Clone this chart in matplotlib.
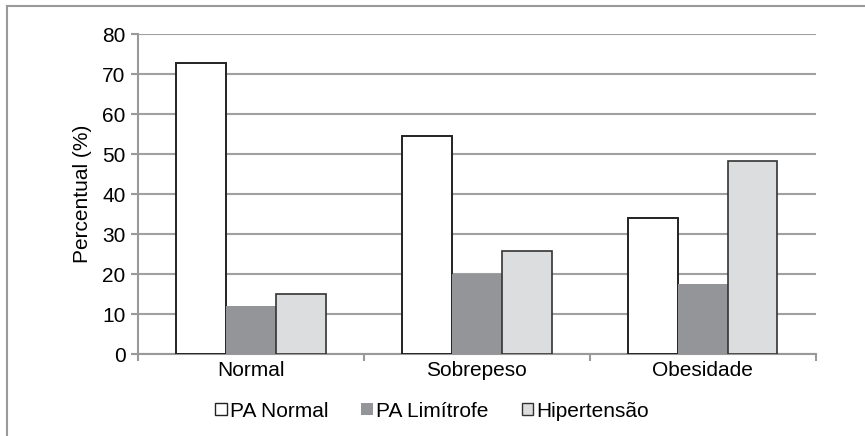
import matplotlib
matplotlib.use('Agg')
import matplotlib.pyplot as plt
from matplotlib.lines import Line2D
from matplotlib.patches import Patch
import numpy as np

categories = ['Normal', 'Sobrepeso', 'Obesidade']
series = ['PA Normal', 'PA Limítrofe', 'Hipertensão']
pa_normal = [72.7, 54.5, 34.0]
pa_limitrofe = [12.1, 20.0, 17.6]
hipertensao = [15.0, 25.7, 48.3]
yticks = [0, 10, 20, 30, 40, 50, 60, 70, 80]

plt.rcParams.update({
    "font.family": ["Liberation Sans", "DejaVu Sans"],
    "font.size": 15,
})

fig = plt.figure(figsize=(8.65, 4.36), dpi=100)
ax = fig.add_axes([138 / 865, 82 / 436, 677.5 / 865, 320 / 436])

# frame lines of the surrounding box
fig.add_artist(Line2D([7 / 865, 1], [1 - 6.5 / 436, 1 - 6.5 / 436], color='#999999', lw=1.5))
fig.add_artist(Line2D([7.5 / 865, 7.5 / 865], [0, 1 - 6.5 / 436], color='#999999', lw=1.5))

x = np.arange(len(categories)) + 0.5
w = 0.221
ax.bar(x - w, pa_normal, w, color='white', edgecolor='#222222', linewidth=1.4, zorder=3)
ax.bar(x, pa_limitrofe, w, color='#949598', edgecolor='none', zorder=3)
ax.bar(x + w, hipertensao, w, color='#dcdddf', edgecolor='#333333', linewidth=1.2, zorder=3)

ax.set_xlim(0, 3)
ax.set_ylim(0, 80)
ax.set_yticks(yticks)
ax.set_xticks([0, 1, 2, 3])
ax.set_xticklabels([])
ax.set_xticks(x, minor=True)
ax.set_xticklabels(categories, minor=True)
ax.tick_params(axis='x', which='minor', length=0, pad=5, labelsize=15)
ax.tick_params(axis='x', which='major', length=5, width=1.5, color='#999999', direction='out')
ax.tick_params(axis='y', length=5, width=1.5, color='#999999', labelsize=15, pad=4)

ax.grid(axis='y', color='#a0a0a0', linewidth=1.5, zorder=0)
ax.set_axisbelow(True)
for s in ['top', 'right']:
    ax.spines[s].set_visible(False)
for s in ['left', 'bottom']:
    ax.spines[s].set_color('#999999')
    ax.spines[s].set_linewidth(1.5)

ax.set_ylabel('Percentual (%)', fontsize=15, labelpad=7)

handles = [
    Patch(facecolor='white', edgecolor='#222222', linewidth=1.0),
    Patch(facecolor='#949598', edgecolor='none'),
    Patch(facecolor='#dcdddf', edgecolor='#333333', linewidth=1.0),
]
fig.legend(handles, series, loc='center', bbox_to_anchor=(432 / 865, 1 - 411 / 436),
           ncol=3, frameon=False, fontsize=15, handlelength=0.55, handleheight=0.55,
           handletextpad=0.15, columnspacing=1.6)

fig.savefig('out.png', dpi=100)
